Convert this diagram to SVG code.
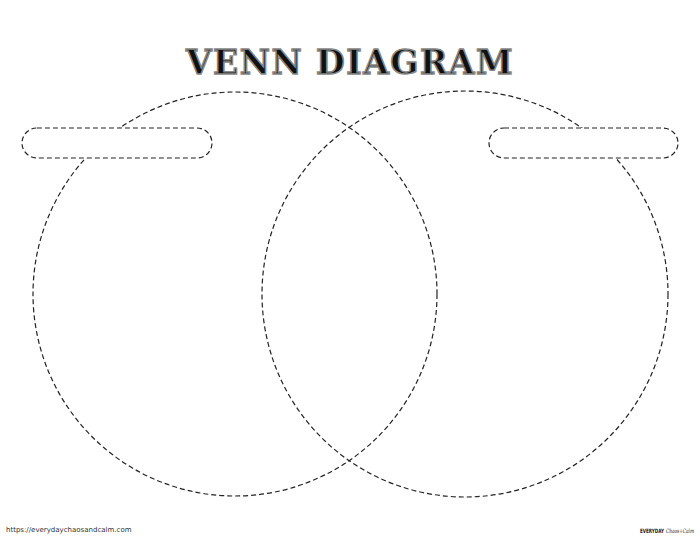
<svg xmlns="http://www.w3.org/2000/svg" width="700" height="541" viewBox="0 0 700 541">
<style>
.d{fill:none;stroke:#222;stroke-width:1.2;stroke-dasharray:5 3}
.p{fill:#fff;stroke:#222;stroke-width:1.2;stroke-dasharray:5 3}
.f{font-family:"DejaVu Sans",sans-serif;font-size:7px;fill:#333}
</style>
<rect width="700" height="541" fill="#fff"/>
<text x="350" y="74" text-anchor="middle" font-family="'DejaVu Serif',serif" font-weight="bold" font-size="33" fill="#111" stroke="#888" stroke-width="1.5" letter-spacing="1.5">VENN DIAGRAM</text>
<g id="left-circle"><circle class="d" cx="235" cy="294" r="202"/></g>
<g id="right-circle"><circle class="d" cx="465" cy="294" r="203"/></g>
<g id="left-label"><rect class="p" x="22" y="128" width="190" height="30" rx="15"/></g>
<g id="right-label"><rect class="p" x="489" y="128" width="189" height="30" rx="15"/></g>
<text class="f" x="6" y="532">https://everydaychaosandcalm.com</text>
<text x="640" y="533" font-family="'DejaVu Sans Condensed',sans-serif" font-weight="bold" font-size="6" fill="#222" textLength="24" lengthAdjust="spacingAndGlyphs">EVERYDAY</text>
<text x="666" y="533" font-family="'DejaVu Serif',serif" font-style="italic" font-size="6" fill="#222" textLength="28" lengthAdjust="spacingAndGlyphs">Chaos+Calm</text>
<g id="connectors"/>
</svg>
